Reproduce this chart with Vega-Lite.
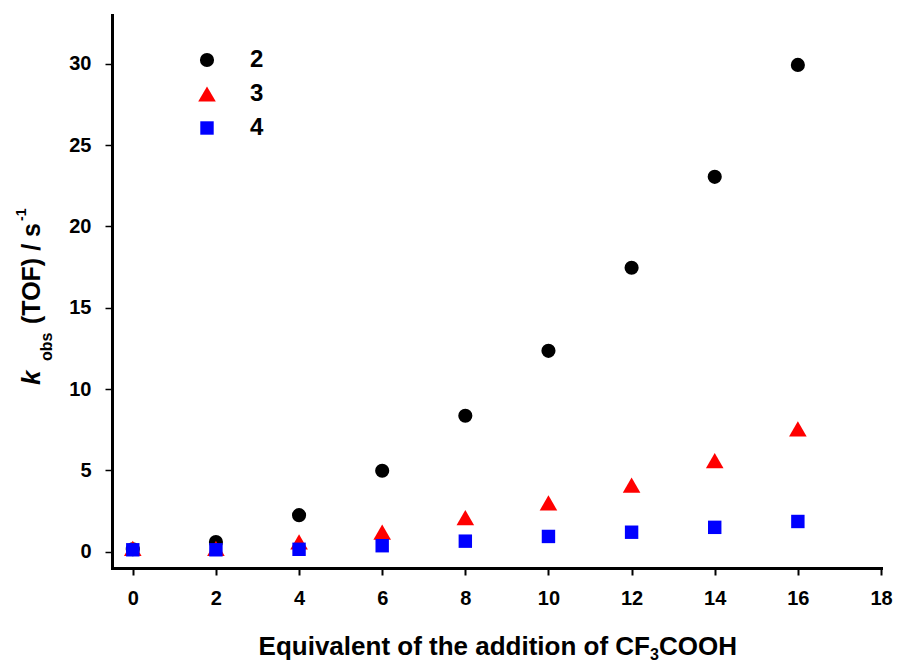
{
  "$schema": "https://vega.github.io/schema/vega-lite/v6.json",
  "width": 769,
  "height": 553,
  "autosize": {"type": "none"},
  "padding": {"left": 112, "top": 15, "right": 16, "bottom": 95},
  "background": "white",
  "config": {
    "view": {"stroke": null},
    "font": "Liberation Sans",
    "legend": {
      "title": null,
      "orient": "none",
      "legendX": 83,
      "legendY": 33,
      "padding": 0,
      "symbolStrokeWidth": 0,
      "labelFont": "Liberation Sans",
      "labelFontSize": 24,
      "labelFontWeight": "bold",
      "labelColor": "#000000",
      "labelOffset": 31,
      "rowPadding": 10
    }
  },
  "layer": [
    {
      "data": {
        "values": [
          {"eq": 0, "kobs": 0.15, "complex": "2"},
          {"eq": 2, "kobs": 0.6, "complex": "2"},
          {"eq": 4, "kobs": 2.25, "complex": "2"},
          {"eq": 6, "kobs": 4.98, "complex": "2"},
          {"eq": 8, "kobs": 8.36, "complex": "2"},
          {"eq": 10, "kobs": 12.35, "complex": "2"},
          {"eq": 12, "kobs": 17.46, "complex": "2"},
          {"eq": 14, "kobs": 23.05, "complex": "2"},
          {"eq": 16, "kobs": 29.93, "complex": "2"},
          {"eq": 0, "kobs": 0.2, "complex": "3"},
          {"eq": 2, "kobs": 0.2, "complex": "3"},
          {"eq": 4, "kobs": 0.6, "complex": "3"},
          {"eq": 6, "kobs": 1.2, "complex": "3"},
          {"eq": 8, "kobs": 2.1, "complex": "3"},
          {"eq": 10, "kobs": 3.0, "complex": "3"},
          {"eq": 12, "kobs": 4.1, "complex": "3"},
          {"eq": 14, "kobs": 5.6, "complex": "3"},
          {"eq": 16, "kobs": 7.55, "complex": "3"},
          {"eq": 0, "kobs": 0.12, "complex": "4"},
          {"eq": 2, "kobs": 0.12, "complex": "4"},
          {"eq": 4, "kobs": 0.15, "complex": "4"},
          {"eq": 6, "kobs": 0.37, "complex": "4"},
          {"eq": 8, "kobs": 0.65, "complex": "4"},
          {"eq": 10, "kobs": 0.94, "complex": "4"},
          {"eq": 12, "kobs": 1.2, "complex": "4"},
          {"eq": 14, "kobs": 1.5, "complex": "4"},
          {"eq": 16, "kobs": 1.86, "complex": "4"}
        ]
      },
      "mark": {"type": "point", "filled": true, "opacity": 1, "strokeWidth": 0},
      "encoding": {
        "x": {
          "field": "eq",
          "type": "quantitative",
          "scale": {"domain": [-0.5, 18], "nice": false, "zero": false},
          "axis": {
            "values": [0, 2, 4, 6, 8, 10, 12, 14, 16, 18],
            "grid": false,
            "labelFlush": false,
            "domainColor": "#000000",
            "domainWidth": 3,
            "domainCap": "square",
            "tickColor": "#000000",
            "tickWidth": 2,
            "tickSize": 7,
            "labelFont": "Liberation Sans",
            "labelFontSize": 20,
            "labelFontWeight": "bold",
            "labelColor": "#000000",
            "labelPadding": 13,
            "title": null
          }
        },
        "y": {
          "field": "kobs",
          "type": "quantitative",
          "scale": {"domain": [-1, 33], "nice": false, "zero": false},
          "axis": {
            "values": [0, 5, 10, 15, 20, 25, 30],
            "grid": false,
            "labelFlush": false,
            "domainColor": "#000000",
            "domainWidth": 3,
            "domainCap": "square",
            "tickColor": "#000000",
            "tickWidth": 1.5,
            "tickSize": 7,
            "labelFont": "Liberation Sans",
            "labelFontSize": 20,
            "labelFontWeight": "bold",
            "labelColor": "#000000",
            "labelPadding": 14,
            "title": null
          }
        },
        "color": {
          "field": "complex",
          "type": "nominal",
          "scale": {"domain": ["2", "3", "4"], "range": ["#000000", "#ff0000", "#0000ff"]}
        },
        "shape": {
          "field": "complex",
          "type": "nominal",
          "scale": {"domain": ["2", "3", "4"], "range": ["circle", "triangle-up", "square"]}
        },
        "size": {
          "field": "complex",
          "type": "nominal",
          "scale": {"type": "ordinal", "domain": ["2", "3", "4"], "range": [200, 310, 180]}
        }
      }
    },
    {
      "data": {"values": [{}]},
      "mark": {"type": "text", "text": "k", "x": -72, "y": 370, "angle": 270, "align": "left", "baseline": "alphabetic", "font": "Liberation Sans", "fontSize": 26, "fontWeight": "bold", "fontStyle": "italic", "color": "#000000"},
      "encoding": {}
    },
    {
      "data": {"values": [{}]},
      "mark": {"type": "text", "text": "obs", "x": -60, "y": 346, "angle": 270, "align": "left", "baseline": "alphabetic", "font": "Liberation Sans", "fontSize": 16, "fontWeight": "bold", "color": "#000000"},
      "encoding": {}
    },
    {
      "data": {"values": [{}]},
      "mark": {"type": "text", "text": "(TOF) / s", "x": -72, "y": 309, "angle": 270, "align": "left", "baseline": "alphabetic", "font": "Liberation Sans", "fontSize": 25, "fontWeight": "bold", "color": "#000000"},
      "encoding": {}
    },
    {
      "data": {"values": [{}]},
      "mark": {"type": "text", "text": "-1", "x": -86, "y": 206, "angle": 270, "align": "left", "baseline": "alphabetic", "font": "Liberation Sans", "fontSize": 14, "fontWeight": "bold", "color": "#000000"},
      "encoding": {}
    },
    {
      "data": {"values": [{}]},
      "mark": {"type": "text", "text": "Equivalent of the addition of CF", "x": 538, "y": 640, "align": "right", "baseline": "alphabetic", "font": "Liberation Sans", "fontSize": 26, "fontWeight": "bold", "color": "#000000"},
      "encoding": {}
    },
    {
      "data": {"values": [{}]},
      "mark": {"type": "text", "text": "3", "x": 538, "y": 645, "align": "left", "baseline": "alphabetic", "font": "Liberation Sans", "fontSize": 16, "fontWeight": "bold", "color": "#000000"},
      "encoding": {}
    },
    {
      "data": {"values": [{}]},
      "mark": {"type": "text", "text": "COOH", "x": 547, "y": 640, "align": "left", "baseline": "alphabetic", "font": "Liberation Sans", "fontSize": 26, "fontWeight": "bold", "color": "#000000"},
      "encoding": {}
    }
  ]
}
